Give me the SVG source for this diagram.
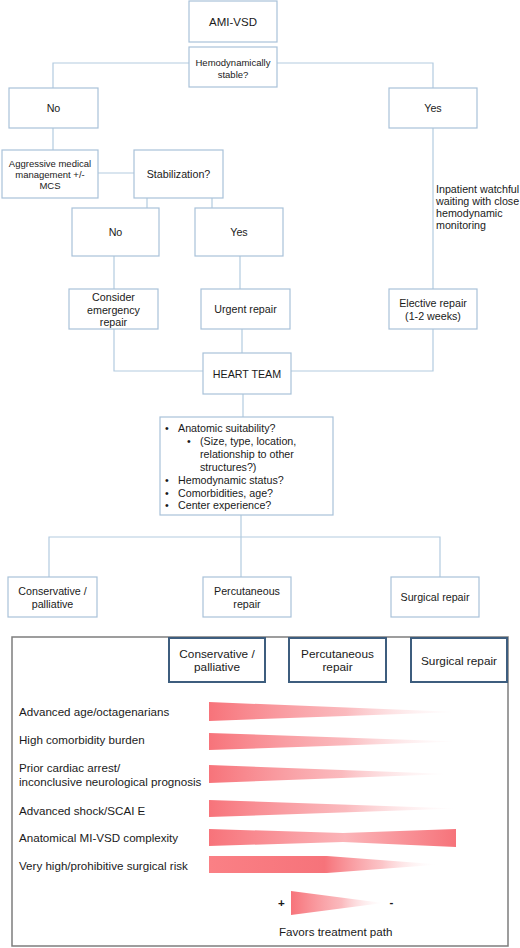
<svg xmlns="http://www.w3.org/2000/svg" width="520" height="948" viewBox="0 0 520 948">
<style>
.box{fill:#fff;stroke:#a9c2d9;stroke-width:1.2}
.hbox{fill:#fff;stroke:#3d5d7e;stroke-width:2}
.con{fill:none;stroke:#b3cbe0;stroke-width:1.2}
text{font-family:"Liberation Sans",Arial,sans-serif;fill:#1a1a1a}
.t{font-size:10.7px;text-anchor:middle}
.s{font-size:9.5px;text-anchor:middle}
.l{font-size:10.7px}
.h{font-size:11.8px;text-anchor:middle}
.r{font-size:11.6px}
</style>
<defs>
<linearGradient id="fade" x1="0" y1="0" x2="1" y2="0">
<stop offset="0" stop-color="#f7737a" stop-opacity="1"/>
<stop offset="0.55" stop-color="#f9a3a8" stop-opacity="0.75"/>
<stop offset="1" stop-color="#fde4e6" stop-opacity="0"/>
</linearGradient>
<linearGradient id="bow" x1="0" y1="0" x2="1" y2="0">
<stop offset="0" stop-color="#f7737a"/>
<stop offset="0.55" stop-color="#fbb5b9"/>
<stop offset="1" stop-color="#f6737a"/>
</linearGradient>
<linearGradient id="solid" x1="0" y1="0" x2="1" y2="0">
<stop offset="0" stop-color="#fa8085"/>
<stop offset="0.5" stop-color="#f6737a"/>
<stop offset="0.75" stop-color="#fbb6ba" stop-opacity="0.8"/>
<stop offset="1" stop-color="#ffffff" stop-opacity="0"/>
</linearGradient>
</defs>
<rect width="520" height="948" fill="#fff"/>
<g id="connectors">
<polyline class="con" points="189,63 53,63 53,88"/>
<polyline class="con" points="277,63 433,63 433,88"/>
<line class="con" x1="53" y1="128" x2="53" y2="150"/>
<line class="con" x1="98" y1="173" x2="134" y2="173"/>
<line class="con" x1="147" y1="198" x2="147" y2="208"/>
<line class="con" x1="212" y1="198" x2="212" y2="208"/>
<line class="con" x1="433" y1="128" x2="433" y2="289"/>
<line class="con" x1="114" y1="256" x2="114" y2="289"/>
<line class="con" x1="240" y1="256" x2="240" y2="289"/>
<polyline class="con" points="114,329 114,371 203,371"/>
<line class="con" x1="242" y1="329" x2="242" y2="353"/>
<polyline class="con" points="433,329 433,371 291,371"/>
<line class="con" x1="243" y1="394" x2="243" y2="417"/>
<line class="con" x1="241" y1="515" x2="241" y2="577"/>
<polyline class="con" points="49,577 49,537 440,537 440,577"/>
</g>
<g id="ami"><rect class="box" x="189" y="1" width="88" height="41"/><text class="t" style="font-size:11.5px" x="233" y="25.5">AMI-VSD</text></g>
<g id="hemo"><rect class="box" x="189" y="47" width="88" height="40"/><text class="s" x="233" y="66">Hemodynamically</text><text class="s" x="233" y="77.5">stable?</text></g>
<g id="no1"><rect class="box" x="9" y="88" width="89" height="40"/><text class="t" x="53.5" y="112">No</text></g>
<g id="yes1"><rect class="box" x="389" y="88" width="88" height="40"/><text class="t" x="433" y="112">Yes</text></g>
<g id="aggr"><rect class="box" x="2" y="150" width="96" height="48"/><text class="s" x="50" y="166.5">Aggressive medical</text><text class="s" x="50" y="178">management +/-</text><text class="s" x="50" y="189">MCS</text></g>
<g id="stab"><rect class="box" x="134" y="150" width="89" height="48"/><text class="t" x="178.5" y="178">Stabilization?</text></g>
<g id="no2"><rect class="box" x="72" y="208" width="87" height="48"/><text class="t" x="115.5" y="236">No</text></g>
<g id="yes2"><rect class="box" x="195" y="208" width="88" height="48"/><text class="t" x="239" y="236">Yes</text></g>
<g id="watch"><text class="l" x="436" y="193">Inpatient watchful</text><text class="l" x="436" y="205">waiting with close</text><text class="l" x="436" y="217">hemodynamic</text><text class="l" x="436" y="229">monitoring</text></g>
<g id="consider"><rect class="box" x="69" y="289" width="89" height="40"/><text class="t" x="113.5" y="300.5">Consider</text><text class="t" x="113.5" y="313.5">emergency</text><text class="t" x="113.5" y="326">repair</text></g>
<g id="urgent"><rect class="box" x="201" y="289" width="89" height="40"/><text class="t" x="245.5" y="313">Urgent repair</text></g>
<g id="elective"><rect class="box" x="389" y="289" width="88" height="40"/><text class="t" x="433" y="307">Elective repair</text><text class="t" x="433" y="320">(1-2 weeks)</text></g>
<g id="heart"><rect class="box" x="203" y="353" width="88" height="41"/><text class="t" x="247" y="377.5">HEART TEAM</text></g>
<g id="criteria"><rect class="box" x="160" y="417" width="173" height="98"/>
<text class="l" x="165" y="432">•</text><text class="l" x="178" y="432">Anatomic suitability?</text>
<text class="l" x="187" y="445">•</text><text class="l" x="200" y="445">(Size, type, location,</text>
<text class="l" x="200" y="458">relationship to other</text>
<text class="l" x="200" y="471">structures?)</text>
<text class="l" x="165" y="484">•</text><text class="l" x="178" y="484">Hemodynamic status?</text>
<text class="l" x="165" y="497">•</text><text class="l" x="178" y="497">Comorbidities, age?</text>
<text class="l" x="165" y="509">•</text><text class="l" x="178" y="509">Center experience?</text>
</g>
<g id="cons"><rect class="box" x="8" y="577" width="89" height="40"/><text class="t" x="52.5" y="594.5">Conservative /</text><text class="t" x="52.5" y="608">palliative</text></g>
<g id="perc"><rect class="box" x="203" y="577" width="88" height="40"/><text class="t" x="247" y="594.5">Percutaneous</text><text class="t" x="247" y="608">repair</text></g>
<g id="surg"><rect class="box" x="391" y="577" width="88" height="40"/><text class="t" x="435" y="601">Surgical repair</text></g>
<g id="panel">
<rect x="12" y="637" width="496" height="309" fill="none" stroke="#7d7d7d" stroke-width="1.5"/>
<rect class="hbox" x="169" y="638" width="96" height="44"/><text class="h" x="217" y="657.5">Conservative /</text><text class="h" x="217" y="671">palliative</text>
<rect class="hbox" x="289" y="638" width="97" height="44"/><text class="h" x="337.5" y="657.5">Percutaneous</text><text class="h" x="337.5" y="671">repair</text>
<rect class="hbox" x="411" y="638" width="96" height="44"/><text class="h" x="459" y="665">Surgical repair</text>
<text class="r" x="19" y="716">Advanced age/octagenarians</text>
<polygon points="209,702 458,712 209,721" fill="url(#fade)"/>
<text class="r" x="19" y="744">High comorbidity burden</text>
<polygon points="209,733 458,741.5 209,750" fill="url(#fade)"/>
<text class="r" x="19" y="772">Prior cardiac arrest/</text>
<text class="r" x="19" y="786">inconclusive neurological prognosis</text>
<polygon points="209,765 450,774 209,783" fill="url(#fade)"/>
<text class="r" x="19" y="814.5">Advanced shock/SCAI E</text>
<polygon points="209,800 458,808.5 209,817" fill="url(#fade)"/>
<text class="r" x="19" y="842">Anatomical MI-VSD complexity</text>
<polygon points="209,829 343,833 456,829 456,847 343,842 209,846" fill="url(#bow)"/>
<text class="r" x="19" y="870">Very high/prohibitive surgical risk</text>
<polygon points="209,856 327,856 440,864.5 327,873 209,873" fill="url(#solid)"/>
<text class="r" style="font-weight:bold" x="278" y="907">+</text>
<polygon points="291,891 383,903 291,915" fill="url(#fade)"/>
<text class="r" style="font-weight:bold" x="389.5" y="906">-</text>
<text class="r" x="279" y="936">Favors treatment path</text>
</g>
</svg>
